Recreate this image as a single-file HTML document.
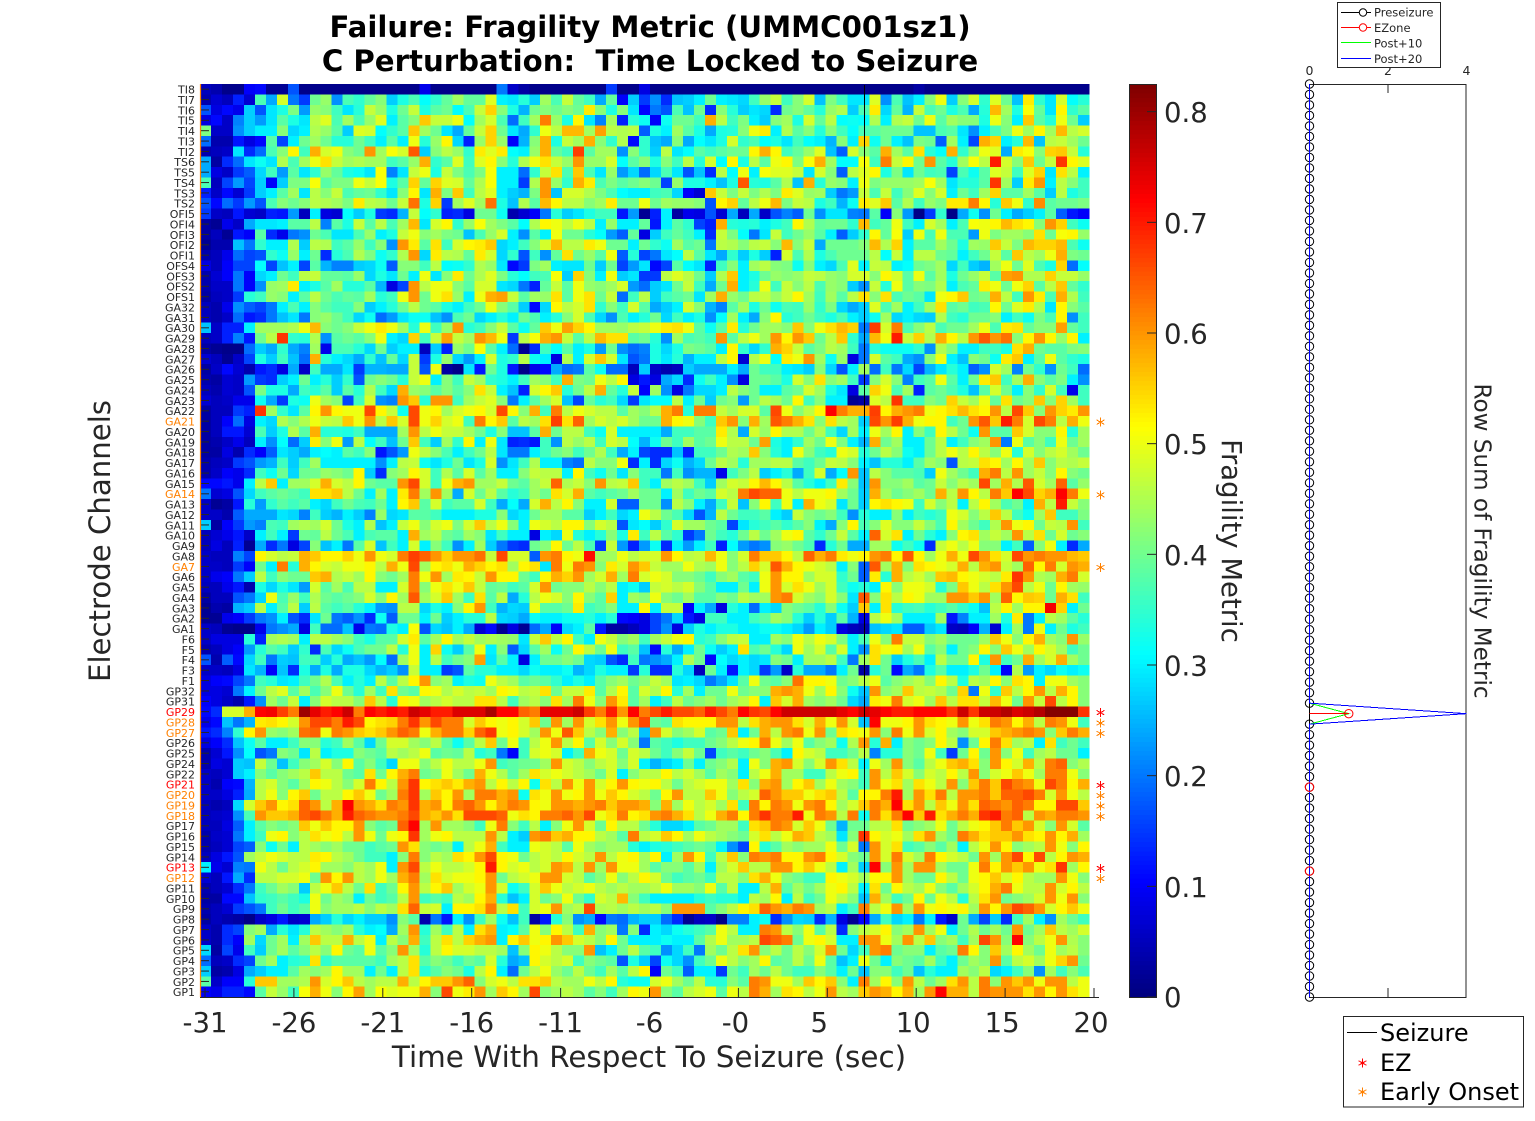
<!DOCTYPE html>
<html>
<head>
<meta charset="utf-8">
<title>Failure: Fragility Metric</title>
<style>
html,body{margin:0;padding:0;background:#fff;}
svg{display:block;}
text{font-family:"DejaVu Sans","Liberation Sans",sans-serif;fill:#262626;}
</style>
</head>
<body>
<svg id="figure" xmlns="http://www.w3.org/2000/svg" width="1535" height="1121" viewBox="0 0 1535 1121">
  <text x="650" y="37" text-anchor="middle" font-size="29.2" font-weight="bold" style="fill:#000">Failure: Fragility Metric (UMMC001sz1)</text>
  <text x="650" y="71" text-anchor="middle" font-size="29.2" font-weight="bold" style="fill:#000;white-space:pre" xml:space="preserve">C Perturbation:  Time Locked to Seizure</text>
  <g id="heatmap"></g>
  <line x1="864.5" x2="864.5" y1="85" y2="997" stroke="#000" stroke-width="1"/>
  <g id="yticks"></g>
  <g id="xticks"></g>
  <line x1="200.5" x2="200.5" y1="84" y2="997" stroke="#ff8000" stroke-width="1.2"/>
  <line x1="200" x2="1099" y1="997.5" y2="997.5" stroke="#262626" stroke-width="1"/>
  <text x="649" y="1067" text-anchor="middle" font-size="29.4">Time With Respect To Seizure (sec)</text>
  <text transform="translate(110,541) rotate(-90)" text-anchor="middle" font-size="29.2">Electrode Channels</text>
  <g id="markers"></g>
  <g id="colorbar"></g>
  <text transform="translate(1222,541) rotate(90)" text-anchor="middle" font-size="27.5">Fragility Metric</text>
  <g id="sideplot"></g>
  <text transform="translate(1474.5,541) rotate(90)" text-anchor="middle" font-size="23.1">Row Sum of Fragility Metric</text>
  <g>
    <rect x="1337.5" y="2.5" width="103" height="65" fill="#fff" stroke="#262626" stroke-width="1"/>
    <line x1="1341" x2="1371" y1="12.5" y2="12.5" stroke="#000"/>
    <circle cx="1363" cy="12.5" r="3.7" fill="#fff" stroke="#000"/>
    <text x="1374" y="16.5" font-size="11.5">Preseizure</text>
    <line x1="1341" x2="1371" y1="27.5" y2="27.5" stroke="#f00"/>
    <circle cx="1363" cy="27.5" r="3.7" fill="#fff" stroke="#f00"/>
    <text x="1374" y="32" font-size="11.5">EZone</text>
    <line x1="1341" x2="1371" y1="42.5" y2="42.5" stroke="#0f0"/>
    <text x="1374" y="47.5" font-size="11.5">Post+10</text>
    <line x1="1341" x2="1371" y1="58.5" y2="58.5" stroke="#00f"/>
    <text x="1374" y="63" font-size="11.5">Post+20</text>
  </g>
  <g>
    <rect x="1343.5" y="1016.5" width="180" height="90.5" fill="#fff" stroke="#262626" stroke-width="1"/>
    <line x1="1347" x2="1377" y1="1032.5" y2="1032.5" stroke="#000"/>
    <text x="1380" y="1041" font-size="24" style="fill:#000">Seizure</text>
    <g id="legendStarEz"></g>
    <text x="1380" y="1071" font-size="24" style="fill:#000">EZ</text>
    <g id="legendStarOnset"></g>
    <text x="1380" y="1100" font-size="24" style="fill:#000">Early Onset</text>
  </g>
</svg>
<script>
const channels = ["TI8","TI7","TI6","TI5","TI4","TI3","TI2","TS6","TS5","TS4","TS3","TS2","OFI5","OFI4","OFI3","OFI2","OFI1","OFS4","OFS3","OFS2","OFS1","GA32","GA31","GA30","GA29","GA28","GA27","GA26","GA25","GA24","GA23","GA22","GA21","GA20","GA19","GA18","GA17","GA16","GA15","GA14","GA13","GA12","GA11","GA10","GA9","GA8","GA7","GA6","GA5","GA4","GA3","GA2","GA1","F6","F5","F4","F3","F1","GP32","GP31","GP29","GP28","GP27","GP26","GP25","GP24","GP22","GP21","GP20","GP19","GP18","GP17","GP16","GP15","GP14","GP13","GP12","GP11","GP10","GP9","GP8","GP7","GP6","GP5","GP4","GP3","GP2","GP1"];
const ezChannels = ["GP29","GP21","GP13"];
const onsetChannels = ["GA21","GA14","GA7","GP28","GP27","GP20","GP19","GP18","GP12"];
const timeTickLabels = ["-31","-26","-21","-16","-11","-6","-0","5","10","15","20"];
const colorbarTicks = [0,0.1,0.2,0.3,0.4,0.5,0.6,0.7,0.8];
const rowSumTicks = [0,2,4];
const preseizure = [0,0,0,0,0,0,0,0,0,0,0,0,0,0,0,0,0,0,0,0,0,0,0,0,0,0,0,0,0,0,0,0,0,0,0,0,0,0,0,0,0,0,0,0,0,0,0,0,0,0,0,0,0,0,0,0,0,0,0,0,null,0,0,0,0,0,0,0,0,0,0,0,0,0,0,0,0,0,0,0,0,0,0,0,0,0,0,0];
const post10 = [0,0,0,0,0,0,0,0,0,0,0,0,0,0,0,0,0,0,0,0,0,0,0,0,0,0,0,0,0,0,0,0,0,0,0,0,0,0,0,0,0,0,0,0,0,0,0,0,0,0,0,0,0,0,0,0,0,0,0,0,1,0,0,0,0,0,0,0,0,0,0,0,0,0,0,0,0,0,0,0,0,0,0,0,0,0,0,0];
const post20 = [0,0,0,0,0,0,0,0,0,0,0,0,0,0,0,0,0,0,0,0,0,0,0,0,0,0,0,0,0,0,0,0,0,0,0,0,0,0,0,0,0,0,0,0,0,0,0,0,0,0,0,0,0,0,0,0,0,0,0,0,4,0,0,0,0,0,0,0,0,0,0,0,0,0,0,0,0,0,0,0,0,0,0,0,0,0,0,0];
const ezoneRows = [60,60,67,75];
const ezoneValues = [0,1,0,0];
const fragility = [
[5,4,1,1,10,11,2,2,17,1, 1,1,1,1,1,1,1,1,1,1, 9,1,1,1,1,1,1,20,6,3, 1,1,1,1,1,1,1,15,1,1, 8,1,1,1,1,1,1,1,1,1, 1,1,1,1,1,1,1,1,1,1, 1,1,1,1,1,3,1,1,1,1, 1,1,1,1,1,1,1,1,1,1,1],
[4,7,5,13,7,37,24,48,20,15, 40,43,22,37,35,39,42,27,33,37, 31,35,39,44,39,39,49,30,29,34, 27,44,37,47,39,36,24,39,10,27, 15,22,14,26,27,30,40,30,29,28, 36,43,47,36,42,48,26,41,36,29, 29,49,22,37,26,30,42,50,27,42, 48,35,49,40,26,53,35,29,48,31,34],
[17,8,11,9,27,17,29,33,41,23, 43,42,36,29,34,47,43,33,40,47, 33,38,40,31,37,47,55,42,33,25, 40,42,40,42,40,53,42,33,42,29, 11,20,17,37,26,40,14,42,34,27, 29,28,14,40,42,39,34,43,45,27, 37,53,28,39,25,47,37,40,33,37, 24,34,57,44,33,51,39,29,52,35,38],
[8,11,6,21,27,23,29,38,33,29, 46,49,37,44,37,43,49,30,38,42, 56,47,47,50,31,44,48,37,19,36, 44,62,43,33,52,29,21,44,13,34, 32,10,32,40,40,36,58,46,36,41, 30,27,42,44,33,48,39,46,31,32, 31,45,30,45,47,40,50,38,44,42, 42,33,50,42,30,56,38,34,50,40,27],
[41,6,6,22,27,30,30,42,28,30, 45,43,38,27,49,48,31,35,38,56, 44,40,29,24,39,47,55,40,29,24, 35,50,46,57,57,44,59,46,45,46, 18,33,30,44,38,33,24,33,34,42, 50,53,30,45,38,42,34,42,36,31, 37,38,40,40,40,26,26,37,38,29, 22,30,37,41,50,44,52,44,57,46,48],
[19,4,4,12,8,11,38,16,30,40, 44,40,34,34,40,36,30,38,30,50, 34,43,52,28,13,43,55,43,10,25, 42,58,33,47,44,58,42,35,45,11, 35,26,24,42,24,31,29,33,48,35, 37,31,33,29,36,31,30,25,42,30, 55,32,40,30,26,41,40,18,44,30, 16,58,55,30,34,57,26,46,47,44,40],
[4,5,6,29,14,19,37,42,52,36, 58,48,50,42,40,60,44,51,48,65, 27,42,46,43,35,53,49,53,31,30, 43,58,39,36,67,38,44,44,22,42, 35,27,46,29,31,38,36,38,40,40, 52,58,52,36,39,43,49,26,18,48, 42,38,58,44,38,54,34,31,58,35, 42,50,49,24,53,51,42,55,56,47,34],
[24,3,14,19,29,32,29,45,37,44, 50,54,47,44,45,44,44,36,38,43, 58,35,38,49,36,49,52,42,34,45, 50,54,47,43,60,43,43,48,31,38, 42,33,42,36,46,34,48,31,52,33, 46,38,50,52,41,51,58,44,31,31, 51,36,62,47,52,40,60,38,34,44, 51,46,70,48,42,56,40,47,68,52,49],
[24,8,6,15,18,28,36,23,38,29, 35,43,39,33,32,29,51,21,29,47, 50,33,47,41,37,41,51,30,30,19, 35,47,54,37,56,37,29,43,23,28, 19,28,37,29,17,26,14,46,31,50, 30,51,49,49,47,29,48,42,18,46, 49,52,33,41,29,40,36,37,16,37, 32,38,49,47,36,49,55,29,54,46,30],
[37,5,16,23,16,27,10,27,41,41, 51,38,41,41,50,47,51,33,38,55, 39,55,49,48,39,45,51,30,30,15, 45,60,43,35,58,53,37,41,38,40, 42,40,16,43,33,33,30,26,33,65, 34,33,38,45,26,58,34,43,42,30, 50,41,43,43,43,44,51,44,29,34, 34,38,68,44,27,53,60,30,46,42,36],
[13,6,11,7,15,27,30,38,44,29, 46,42,47,37,39,40,35,29,42,52, 29,58,41,56,36,46,49,30,27,25, 41,60,26,48,48,45,41,37,31,30, 30,36,37,28,10,7,56,47,41,47, 41,45,41,53,49,43,44,27,20,23, 47,37,47,36,42,49,42,48,30,40, 36,44,55,38,38,44,38,27,46,33,36],
[17,11,19,15,23,17,37,42,40,42, 46,45,44,41,53,46,45,40,47,63, 33,55,15,44,49,44,63,33,26,45, 38,57,52,46,46,42,44,53,40,40, 50,40,44,43,43,42,17,52,55,39, 46,50,57,41,47,46,33,36,25,32, 53,49,56,38,45,36,43,41,53,53, 62,52,34,56,50,35,61,38,40,40,41],
[15,6,5,12,7,6,13,12,23,5, 30,8,7,31,27,33,15,14,25,47, 31,35,13,14,8,40,40,32,4,7, 10,20,34,27,29,33,36,36,12,23, 2,13,30,3,9,8,17,7,24,5, 24,6,17,21,18,40,22,29,29,21, 20,38,10,42,23,1,15,35,1,24, 32,22,40,30,24,27,30,38,18,12,10],
[3,2,9,6,24,29,29,30,38,38, 46,21,38,33,47,38,46,37,44,57, 29,48,52,35,43,51,44,41,38,31, 45,52,50,46,50,46,30,43,30,30, 39,12,30,38,35,16,13,58,34,33, 34,30,33,36,52,45,39,40,40,35, 57,36,39,50,36,30,48,44,30,37, 51,50,52,57,54,52,42,60,55,36,32],
[3,5,2,12,10,38,14,9,20,22, 40,37,29,29,37,43,30,33,47,50, 42,44,41,40,26,37,43,48,30,22, 38,30,50,40,40,34,31,23,18,39, 8,27,36,39,36,30,14,47,41,31, 20,29,47,36,40,43,38,30,18,27, 35,52,39,51,27,50,37,50,37,37, 23,50,41,44,44,42,54,40,51,52,43],
[2,4,4,26,20,35,30,30,45,27, 46,45,36,38,43,36,42,22,60,53, 38,54,36,48,52,53,56,28,30,36, 42,48,57,46,46,53,50,40,40,30, 40,35,32,44,38,40,20,46,45,42, 46,47,42,57,42,47,24,40,40,40, 42,57,45,55,30,38,38,44,40,33, 44,43,56,47,41,57,55,55,57,37,32],
[4,5,9,19,16,17,35,32,43,30, 40,14,34,37,45,41,32,35,45,60, 28,53,46,45,39,53,48,28,35,17, 36,22,39,54,40,43,38,50,18,34, 16,20,29,31,46,38,29,24,35,27, 33,27,13,48,37,45,33,37,40,40, 40,46,31,47,30,46,46,40,39,30, 36,40,47,38,56,46,44,50,58,41,40],
[8,5,10,16,16,31,16,26,30,16, 38,25,21,21,27,28,32,18,42,42, 36,46,31,32,35,45,43,29,11,15, 41,44,30,29,29,40,27,40,16,23, 29,11,16,38,31,29,13,36,42,30, 44,46,42,41,32,42,30,28,37,49, 30,47,46,30,31,40,41,44,28,36, 27,25,44,50,40,49,37,33,55,19,31],
[4,7,10,20,10,28,30,40,36,46, 47,39,39,38,43,28,33,29,40,30, 50,29,42,53,40,45,49,41,34,31, 36,37,51,27,55,42,30,50,27,29, 15,15,46,49,46,40,27,45,56,30, 33,40,43,42,43,47,46,43,42,48, 48,42,52,48,38,50,38,44,33,40, 43,47,38,59,60,45,45,55,47,47,43],
[4,6,6,20,10,22,43,44,53,30, 33,38,44,34,34,38,25,8,16,60, 46,50,50,42,38,48,48,29,28,20, 13,39,47,38,50,43,42,44,48,23, 19,27,29,40,47,36,24,40,58,30, 34,50,36,47,42,46,37,43,42,27, 22,47,34,50,38,42,41,45,30,37, 39,53,50,40,50,55,38,46,56,39,35],
[3,5,6,15,34,36,43,42,30,38, 46,40,37,39,38,44,34,36,50,60, 40,50,54,43,30,50,58,59,47,38, 44,43,54,38,50,54,40,47,19,36, 46,27,36,38,40,29,44,58,43,40, 46,47,43,47,52,44,36,44,38,46, 54,42,54,37,40,38,29,50,52,56, 40,41,58,46,36,60,53,37,58,45,36],
[5,4,9,22,18,16,20,30,37,30, 42,38,36,36,42,27,30,34,40,46, 40,38,33,30,36,40,50,42,38,27, 11,28,52,46,48,54,35,42,36,48, 38,24,27,30,48,42,25,21,38,44, 33,40,32,37,36,43,35,41,28,24, 27,49,37,44,30,36,44,54,38,40, 36,37,52,40,49,53,45,29,52,42,38],
[5,4,6,19,12,14,20,26,29,20, 42,43,40,36,28,32,19,23,29,32, 32,26,22,37,40,28,30,34,30,40, 37,30,34,42,48,37,28,22,37,30, 34,40,28,36,30,33,22,31,44,30, 24,42,52,34,36,40,36,33,37,30, 27,32,44,28,30,28,27,45,36,34, 40,40,42,30,36,32,41,37,52,22,36],
[26,6,13,13,30,44,44,44,45,50, 57,42,40,42,47,50,53,50,44,34, 50,36,43,60,34,36,42,47,38,32, 39,56,50,59,55,52,44,44,43,46, 47,50,53,54,50,38,32,38,53,34, 40,44,44,42,56,42,50,54,57,55, 20,67,48,62,37,42,46,37,40,40, 44,50,37,53,54,39,42,42,59,39,36],
[5,6,13,21,12,40,46,68,35,34, 45,22,38,40,38,42,50,30,28,55, 36,47,59,47,44,60,57,50,15,46, 51,58,60,47,38,46,57,54,54,38, 40,34,22,44,37,38,36,60,38,46, 50,44,60,52,60,56,40,46,56,35, 24,57,50,70,47,55,45,58,52,46, 60,65,60,63,42,52,60,52,43,52,30],
[3,2,1,1,19,27,24,35,24,21, 44,9,37,37,34,28,40,27,30,30, 5,27,13,43,40,51,38,30,19,2, 14,36,31,38,30,33,23,40,22,19, 21,33,28,33,41,40,38,30,52,35, 28,35,58,55,47,38,41,46,44,36, 20,34,32,32,32,35,22,45,41,30, 30,36,36,33,54,58,40,38,38,41,42],
[7,5,2,6,16,33,27,36,26,19, 58,34,30,28,24,35,26,39,28,47, 15,33,43,28,23,30,48,33,35,46, 32,30,8,45,30,48,56,48,29,17, 20,33,29,34,25,30,30,46,52,7, 45,50,31,53,50,60,44,32,43,8, 20,48,38,36,24,22,42,50,30,26, 42,40,32,53,56,30,38,50,38,35,33],
[3,6,11,7,4,12,14,8,24,6, 36,24,24,29,15,25,25,24,24,47, 17,50,3,1,29,12,40,33,12,1, 9,11,24,19,20,38,32,19,19,5, 27,6,4,5,27,24,24,24,30,24, 40,36,36,30,29,27,42,28,17,30, 44,19,36,20,28,16,25,29,34,30, 18,22,48,44,21,40,35,22,40,36,19],
[4,3,7,6,23,15,14,27,30,40, 30,34,27,35,17,40,42,40,34,47, 50,30,42,36,47,44,35,33,30,36, 44,42,36,58,41,40,50,46,52,8, 12,8,24,28,14,32,36,30,22,8, 40,40,38,33,48,42,54,42,44,36, 15,42,48,42,21,36,38,50,38,30, 40,53,56,36,44,58,42,38,41,30,22],
[5,4,7,6,17,41,33,33,24,36, 34,38,27,38,34,45,36,28,58,43, 42,38,42,38,42,54,47,30,26,13, 48,52,56,34,40,46,58,39,34,47, 10,44,22,8,20,28,28,30,46,42, 40,30,30,38,40,48,44,33,29,8, 38,55,50,37,44,13,38,40,37,33, 26,38,48,40,30,42,35,48,36,9,36],
[7,5,6,9,9,32,24,15,33,32, 50,44,42,16,36,48,22,21,60,56, 34,60,60,36,44,47,49,42,20,30, 38,44,48,26,16,39,34,36,28,15, 29,31,31,46,30,40,27,40,42,23, 40,46,44,40,52,36,42,30,30,2, 3,49,46,68,36,36,42,40,55,47, 44,50,39,54,40,42,56,42,55,44,36],
[3,5,5,15,13,68,44,35,29,38, 52,60,52,50,50,66,52,47,32,66, 50,52,44,48,50,52,48,66,52,42, 58,36,62,46,50,48,46,46,38,44, 42,46,58,62,34,62,62,47,44,48, 48,38,66,50,42,46,52,72,62,58, 58,67,52,58,60,62,50,52,54,57, 54,52,60,46,66,56,42,60,55,53,60],
[3,5,10,19,8,30,28,45,42,45, 50,47,46,56,50,60,46,56,48,66, 50,55,48,50,36,62,52,56,38,46, 44,54,67,54,64,44,48,46,48,44, 40,40,58,52,50,42,36,56,60,42, 58,44,65,62,58,54,42,54,46,44, 27,66,60,67,58,50,52,52,36,40, 60,65,56,70,62,48,66,62,46,58,50],
[3,5,12,12,7,37,27,33,45,38, 58,34,34,33,36,24,24,24,44,60, 46,50,47,47,44,40,33,42,26,26, 38,58,40,46,46,36,32,48,30,30, 30,30,24,36,36,38,38,53,45,24, 48,43,52,45,45,40,45,36,28,44, 30,50,44,52,30,42,36,52,46,40, 32,60,38,38,56,48,42,42,52,34,44],
[3,4,6,9,5,30,22,31,19,27, 53,42,50,23,46,31,36,26,40,56, 36,27,44,35,52,30,50,29,13,14, 12,36,22,46,43,46,36,48,46,31, 25,32,40,36,44,38,40,50,46,46, 40,59,33,30,35,44,40,50,41,30, 25,58,40,44,30,30,40,46,30,36, 42,44,60,20,50,38,42,36,50,40,44],
[3,3,8,4,14,10,18,29,27,24, 30,31,30,38,36,42,12,17,23,50, 46,42,37,30,36,40,46,29,20,20, 30,36,40,42,36,40,45,36,24,30, 16,14,14,26,13,36,36,40,45,44, 56,42,34,30,50,42,36,34,50,48, 34,40,46,42,32,30,40,46,50,46, 52,46,42,50,34,48,42,46,48,44,40],
[4,5,6,15,17,23,25,36,27,36, 44,30,30,30,30,30,22,30,46,47, 32,29,33,40,29,33,48,22,29,36, 45,30,30,21,19,46,42,42,50,14, 30,14,28,32,25,28,40,46,44,34, 44,44,46,46,38,36,40,47,46,42, 30,26,34,34,30,38,44,42,17,46, 47,54,52,44,52,44,56,42,46,45,47],
[4,6,10,9,14,36,32,40,28,40, 40,43,42,40,52,27,14,42,44,52, 48,36,45,38,48,38,44,30,30,42, 47,46,46,30,52,36,32,40,29,42, 36,36,20,36,22,25,25,9,36,41, 46,27,30,34,24,36,48,24,31,60, 26,46,42,38,38,37,27,50,44,40, 36,58,62,46,60,44,47,42,52,42,40],
[11,11,12,9,30,46,56,30,44,44, 48,58,48,46,52,40,38,38,60,66, 48,36,50,58,60,44,44,47,40,38, 44,47,64,45,47,42,60,46,47,56, 36,30,44,46,44,36,27,44,48,47, 52,57,52,46,38,34,30,36,53,42, 26,60,42,42,44,38,40,47,42,46, 44,66,44,58,45,65,48,44,64,38,43],
[20,7,8,17,28,36,38,40,38,36, 54,54,56,46,40,30,44,30,53,62, 44,60,44,24,48,40,46,38,34,36, 44,40,54,48,58,38,36,38,40,44, 40,40,30,44,36,40,38,48,46,62, 66,64,64,50,46,50,50,52,44,40, 27,58,44,40,42,44,40,58,46,60, 52,46,62,56,72,66,55,58,72,62,50],
[6,2,3,12,34,23,35,38,36,38, 30,28,36,40,37,36,40,30,52,56, 38,48,36,38,38,48,36,24,31,24, 48,58,46,52,42,30,30,48,18,18, 40,40,22,46,42,30,24,36,47,26, 42,52,36,50,30,58,50,48,29,40, 27,52,54,52,50,36,48,42,46,30, 46,52,44,37,40,30,58,46,70,47,42],
[6,6,4,18,24,24,24,29,28,21, 36,27,25,30,27,21,43,28,29,38, 38,36,30,30,30,33,33,42,28,30, 40,44,44,38,38,27,30,36,28,30, 50,46,40,37,28,17,25,46,40,36, 36,38,30,27,47,42,40,42,36,22, 34,30,30,42,30,36,34,36,50,48, 42,46,56,46,36,32,44,56,36,36,41],
[27,3,10,15,23,21,37,36,44,45, 44,48,40,33,30,45,26,30,47,50, 42,48,50,41,48,56,46,50,42,30, 50,48,46,52,52,42,48,46,17,29, 31,27,35,48,44,44,40,38,16,29, 34,36,38,35,38,42,30,24,42,52, 37,42,49,42,42,47,42,37,52,44, 40,36,45,60,50,52,40,47,46,60,36],
[5,7,9,12,6,30,36,30,15,40, 39,46,40,37,30,37,38,38,30,58, 44,46,40,38,44,42,29,36,30,30, 8,30,28,50,34,30,34,42,33,53, 36,46,38,35,15,20,40,36,34,40, 46,40,44,50,52,38,35,40,47,38, 30,64,48,54,30,40,34,30,42,52, 54,44,47,44,60,46,54,40,48,40,42],
[5,8,5,13,2,24,14,20,8,16, 42,26,30,20,38,48,26,36,30,48, 30,42,36,22,30,44,27,20,15,14, 40,42,52,40,46,37,15,47,23,13, 23,32,14,30,23,30,36,13,31,23, 20,22,42,43,40,37,14,34,40,24, 24,44,44,32,36,32,14,47,50,46, 50,42,42,30,36,18,42,50,30,14,24],
[6,5,5,21,16,52,48,46,47,58, 56,52,52,55,50,60,50,48,62,67, 64,60,55,60,60,63,47,66,48,48, 18,60,62,52,50,71,44,44,50,46, 48,48,60,52,46,47,57,50,42,48, 62,56,56,52,46,64,58,62,53,50, 52,60,62,52,65,52,44,50,58,50, 66,60,54,48,66,60,62,60,60,57,56],
[6,6,5,15,10,40,30,62,34,58, 52,48,47,50,50,52,46,58,50,66, 44,52,54,50,58,55,52,54,44,52, 54,29,62,50,62,60,42,53,48,60, 56,47,44,44,50,45,44,50,42,46, 55,48,65,58,52,50,48,46,30,42, 18,65,44,58,42,54,52,50,48,58, 46,58,60,47,44,64,52,62,48,60,58],
[6,9,10,20,27,46,36,42,40,40, 56,58,45,47,44,52,42,40,44,62, 50,60,44,53,52,47,60,52,52,40, 36,52,58,55,60,44,48,58,44,62, 48,50,48,42,42,40,36,42,44,38, 36,50,60,52,52,44,48,48,35,40, 18,53,34,58,46,48,44,56,57,52, 50,48,46,53,68,60,45,44,58,62,48],
[5,5,9,12,4,33,28,33,29,23, 48,38,44,37,46,46,30,30,48,62, 42,50,54,50,56,47,39,40,36,38, 48,60,40,42,42,46,42,46,30,32, 27,47,48,46,48,42,38,30,30,40, 30,50,60,48,54,50,44,48,36,32, 34,30,52,42,50,50,48,34,41,56, 50,46,54,60,66,46,50,40,52,44,43],
[3,5,5,17,20,28,50,37,43,36, 45,40,38,40,42,48,42,52,44,65, 44,48,56,44,36,54,38,46,24,34, 46,50,48,42,52,42,38,55,30,44, 42,50,42,40,44,38,38,42,40,46, 44,44,60,62,48,44,42,48,42,29, 65,42,54,46,52,50,44,44,60,60, 56,60,44,64,52,56,55,40,58,54,36],
[2,4,3,25,27,46,30,38,46,27, 46,38,36,38,34,30,23,22,46,46, 28,33,30,42,52,60,36,25,28,27, 50,38,38,40,53,36,38,42,30,30, 52,30,47,47,10,30,24,8,34,30, 19,30,28,42,40,38,34,42,32,27, 56,30,54,34,36,37,34,36,38,35, 32,26,46,52,44,52,52,73,55,30,40],
[2,2,9,10,15,20,22,30,17,14, 29,40,20,18,22,14,32,18,40,40, 30,40,27,30,34,34,46,28,27,24, 32,30,30,32,32,34,30,34,11,10, 8,16,20,28,12,8,36,36,30,30, 36,38,44,42,34,27,34,27,38,25, 8,46,50,44,30,30,30,44,12,21, 30,30,44,33,53,20,30,46,44,38,34],
[6,5,2,1,1,9,20,22,24,8, 36,19,19,26,9,20,19,33,30,51, 17,28,26,30,24,7,11,2,8,2, 19,24,10,28,30,38,12,3,3,5, 8,16,22,8,27,33,30,33,33,30, 30,32,32,30,28,23,30,27,8,5, 4,26,28,29,18,18,27,29,6,5, 10,25,7,30,44,20,50,30,40,33,36],
[6,8,8,8,34,13,44,45,44,30, 46,46,44,42,36,33,38,38,48,53, 38,44,52,44,47,44,45,44,43,29, 47,56,46,52,36,30,50,47,42,44, 36,44,47,50,52,34,36,42,46,47, 30,30,44,42,50,46,50,48,41,30, 37,50,42,62,47,47,42,44,40,40, 40,44,56,50,42,52,58,44,42,60,43],
[4,5,8,10,23,34,38,36,27,35, 14,37,28,32,37,40,40,46,34,50, 30,55,32,27,38,50,30,42,18,28, 38,44,32,40,52,46,40,50,36,38, 26,11,34,24,30,40,32,27,30,54, 37,40,34,28,50,44,48,38,48,30, 22,54,50,52,44,50,38,42,30,40, 42,52,42,56,50,44,52,48,44,36,40],
[17,4,18,11,28,36,20,27,26,36, 37,27,34,24,26,23,31,19,44,50, 30,46,36,40,42,59,29,38,30,8, 30,40,40,42,40,28,27,17,14,36, 20,22,24,30,45,40,11,31,28,30, 28,29,42,40,30,44,44,46,36,20, 44,54,40,27,33,37,30,46,40,40, 52,33,60,36,40,58,44,48,58,44,40],
[6,6,5,8,29,25,10,26,14,33, 24,33,24,33,33,28,25,27,22,47, 30,30,15,17,38,34,34,30,30,28, 32,30,30,32,25,28,33,30,30,15, 34,14,14,34,28,5,40,30,12,30, 28,15,23,6,34,24,24,20,30,40, 3,34,40,11,24,20,33,38,30,30, 33,40,30,10,45,23,30,28,32,30,32],
[8,10,11,16,20,36,34,29,30,36, 40,45,37,30,34,30,46,38,46,52, 60,42,44,30,33,32,50,46,44,38, 40,38,35,30,33,30,38,42,44,40, 42,47,44,29,30,28,20,24,29,38, 50,40,38,42,63,52,52,50,40,42, 46,50,38,42,44,46,42,52,46,33, 46,44,52,42,54,52,30,50,50,44,42],
[8,8,7,20,30,40,46,49,38,44, 37,42,50,40,34,44,36,54,40,38, 52,50,45,48,46,47,44,52,50,46, 47,54,40,47,47,53,38,45,52,38, 48,45,52,34,44,30,40,40,50,40, 42,42,58,60,58,50,44,52,42,32, 26,60,42,44,56,46,47,45,40,55, 20,50,35,56,46,52,60,46,58,52,42],
[10,8,6,4,12,22,44,40,47,30, 42,48,46,46,42,56,46,34,52,50, 44,46,48,46,46,54,54,46,36,44, 46,42,54,44,62,50,42,60,53,38, 44,30,36,46,40,42,44,40,44,46, 52,30,56,48,58,44,42,44,40,28, 24,53,50,62,48,50,44,56,46,54, 54,47,57,50,40,60,47,66,46,52,42],
[11,14,48,48,58,72,73,67,62,80, 74,70,72,76,62,72,70,72,70,76, 74,70,70,75,75,75,79,72,72,64, 62,74,74,74,76,67,62,70,60,72, 62,66,70,66,66,64,70,66,62,72, 68,66,72,76,76,76,76,76,74,72, 76,74,72,70,70,72,72,72,68,76, 68,76,76,78,75,76,78,82,82,82,68],
[9,11,26,20,25,53,54,52,48,60, 66,66,62,70,66,52,54,55,62,68, 60,66,62,62,48,56,52,50,52,48, 56,40,60,44,60,48,54,60,50,60, 66,40,38,54,52,52,52,60,60,46, 54,58,60,60,54,48,58,50,60,48, 26,72,50,50,52,60,54,52,50,60, 50,54,62,60,52,58,46,62,60,50,36],
[12,14,21,35,52,60,43,42,44,63, 64,50,62,60,56,54,56,60,64,62, 50,58,62,62,55,64,68,50,52,48, 44,60,50,65,56,46,42,58,42,46, 26,60,48,42,44,48,38,40,56,30, 40,58,46,60,62,50,60,40,54,52, 50,60,42,62,50,60,48,52,44,42, 48,48,56,58,60,62,60,42,56,62,58],
[8,10,14,26,32,38,30,30,36,42, 42,34,36,44,38,28,40,48,48,44, 42,46,38,32,38,46,56,40,50,36, 46,50,60,46,52,38,48,42,48,42, 20,38,36,33,36,36,40,42,46,50, 52,62,50,44,50,38,42,44,32,45, 60,34,58,30,42,40,42,52,46,22, 40,52,62,54,44,46,30,54,36,40,36],
[4,7,12,22,31,17,20,42,40,29, 46,30,33,33,42,40,38,46,44,46, 50,38,40,39,46,34,36,20,10,36, 48,50,48,30,36,58,50,48,40,48, 46,40,36,42,47,40,16,36,38,36, 40,42,37,30,52,48,46,36,36,40, 46,21,34,34,42,40,50,36,15,40, 52,40,60,42,50,36,44,46,40,40,30],
[4,8,7,27,26,47,40,26,36,42, 44,48,42,52,38,42,36,28,50,50, 42,46,50,46,46,50,60,36,38,40, 40,44,60,48,46,42,46,48,42,48, 30,25,28,30,40,30,40,42,45,30, 50,42,58,60,48,42,48,60,54,46, 30,50,44,60,42,38,46,50,56,58, 54,42,60,52,48,58,46,62,64,42,45],
[6,5,7,27,30,42,38,42,44,46, 56,46,46,40,38,54,40,52,58,62, 40,42,50,44,40,58,50,45,38,44, 54,48,50,48,46,44,40,48,30,42, 46,46,52,46,48,44,38,44,42,30, 46,50,58,44,44,36,36,46,50,52, 36,60,46,56,48,42,48,46,52,46, 60,42,48,50,56,50,44,62,62,50,42],
[6,4,10,11,25,46,48,42,38,44, 52,50,46,42,48,62,52,46,60,68, 52,54,56,53,58,60,46,52,46,52, 32,54,46,60,50,60,48,52,60,52, 50,52,46,40,46,48,50,50,44,54, 42,58,60,44,52,56,44,50,44,42, 36,60,50,54,44,54,50,46,60,42, 56,62,56,66,62,60,50,66,62,52,58],
[6,6,8,13,24,46,50,42,52,56, 40,46,46,52,56,50,40,44,62,68, 44,56,52,60,44,62,62,58,60,32, 54,50,60,50,52,60,50,56,52,48, 46,40,52,60,46,46,56,50,42,46, 48,64,60,56,56,50,54,56,46,38, 52,52,62,70,44,60,54,62,46,60, 60,62,56,64,64,66,62,48,60,50,46],
[5,4,5,28,48,56,60,52,54,64, 60,46,58,72,60,58,54,62,60,68, 58,60,52,62,64,60,52,58,62,60, 52,50,60,60,58,60,62,56,60,60, 58,42,58,44,50,46,48,44,54,36, 62,52,62,60,50,60,62,52,44,48, 56,62,58,72,54,60,46,56,50,60, 54,64,62,60,64,62,52,52,66,66,56],
[5,6,7,22,37,60,56,56,58,64, 66,62,58,70,64,62,60,60,62,66, 58,56,60,54,66,66,66,64,50,54, 52,62,62,64,60,66,50,54,62,52, 54,60,62,58,54,46,50,58,62,52, 62,68,62,62,70,50,62,60,46,62, 32,62,54,62,72,56,70,54,58,62, 58,68,70,62,64,46,60,58,62,62,60],
[5,5,8,18,30,38,42,40,42,56, 50,56,52,52,60,42,38,40,64,72, 44,60,44,44,42,36,50,62,42,36, 46,30,42,50,60,48,40,52,46,46, 40,34,28,28,30,38,40,44,44,36, 54,56,62,60,48,56,50,40,25,40, 40,46,46,54,40,42,44,50,40,46, 50,52,56,62,56,60,48,42,60,48,38],
[4,6,7,20,30,36,50,52,42,46, 54,50,52,46,60,50,40,50,52,68, 44,50,52,46,46,46,60,46,30,27, 60,62,56,58,52,52,46,44,38,62, 46,48,56,52,44,50,46,44,42,40, 48,54,46,50,58,56,46,44,29,42, 68,52,48,50,44,54,60,44,40,62, 58,54,56,56,60,54,52,60,52,58,44],
[4,5,7,16,18,42,32,40,30,46, 44,42,44,40,40,36,38,40,60,54, 42,40,42,30,46,50,58,36,30,30, 50,48,46,38,50,44,42,44,44,34, 30,33,34,36,38,40,38,30,22,16, 52,34,38,44,42,44,44,50,40,48, 20,60,48,54,36,38,42,38,44,30, 46,50,60,52,42,44,46,60,50,42,52],
[5,8,12,17,44,47,50,48,46,46, 53,52,46,44,40,36,36,30,42,62, 42,46,44,54,52,60,66,52,50,40, 46,48,46,52,48,46,60,46,50,52, 44,52,30,44,60,52,36,46,56,42, 62,60,62,52,52,60,62,52,48,42, 40,60,48,62,48,44,62,52,48,46, 40,60,44,60,66,52,66,46,52,60,58],
[30,9,7,21,20,50,46,40,46,48, 52,44,44,42,46,44,50,30,60,66, 46,50,46,46,48,52,70,52,48,50, 46,48,60,58,46,60,44,60,50,50, 44,38,42,42,38,44,30,44,48,56, 46,46,60,60,52,56,50,46,30,44, 27,72,42,60,44,60,60,44,40,40, 50,62,52,60,56,60,50,54,68,44,52],
[7,5,12,24,14,46,46,48,48,50, 40,60,52,60,46,44,50,44,58,62, 44,54,48,50,50,52,60,40,46,48, 50,60,60,48,46,38,42,50,42,46, 52,48,40,36,38,40,36,46,46,42, 54,58,50,42,40,36,36,52,50,48, 44,52,52,60,44,40,40,52,46,40, 50,52,56,48,52,46,44,44,60,50,42],
[4,5,7,14,20,36,40,44,42,27, 46,50,56,46,40,54,36,40,52,60, 46,52,56,44,48,50,60,48,32,36, 48,56,50,46,48,50,46,44,46,44, 44,46,50,44,44,42,50,38,46,30, 30,46,58,38,44,40,44,50,52,46, 30,54,40,52,46,44,50,42,38,44, 48,52,58,62,50,46,46,60,48,52,46],
[3,3,11,11,26,35,36,38,36,33, 50,40,44,42,30,40,36,38,46,60, 36,38,36,46,44,52,58,34,26,30, 48,40,42,50,40,35,48,46,57,42, 36,30,30,30,30,34,36,34,34,30, 46,44,52,30,46,36,40,50,46,42, 26,58,44,36,40,52,40,50,46,34, 46,54,60,40,42,44,48,60,50,60,42],
[4,5,7,15,17,20,36,40,36,38, 50,42,44,44,46,42,46,44,54,64, 47,48,30,52,52,54,62,46,54,36, 48,50,60,44,46,66,45,46,44,46, 44,46,42,60,60,60,38,42,46,52, 54,64,60,58,62,60,44,46,30,36, 62,46,50,60,44,60,50,52,50,52, 44,60,52,60,66,64,60,48,52,56,50],
[3,5,4,3,1,6,8,12,6,7, 24,27,34,28,30,27,27,22,42,38, 4,20,12,30,22,36,44,32,26,36, 3,12,34,42,22,24,11,20,19,25, 27,27,19,14,2,5,6,1,21,21, 30,32,14,22,28,27,14,25,8,2, 10,24,36,28,30,20,30,12,6,40, 24,16,27,14,36,44,30,22,44,40,36],
[6,4,14,16,42,44,24,34,29,34, 46,44,42,44,34,30,31,24,44,60, 34,44,36,46,30,54,58,30,31,38, 50,42,52,46,36,58,42,44,20,42, 14,30,28,32,34,36,38,50,46,30, 30,62,60,46,42,50,38,46,14,42, 46,48,52,42,44,60,44,50,30,40, 45,40,44,40,60,40,44,56,46,44,48],
[6,4,14,10,44,28,40,44,30,44, 56,46,46,58,46,50,30,46,42,58, 36,46,54,46,55,58,60,30,52,56, 50,52,60,56,48,46,42,52,40,30, 30,30,32,30,30,38,45,50,44,44, 46,66,64,62,40,50,52,48,30,30, 60,60,50,44,60,46,56,42,44,36, 44,66,60,42,72,42,46,50,60,45,42],
[28,3,16,9,36,27,40,44,38,42, 46,42,52,40,38,50,38,42,60,44, 34,46,52,48,48,46,46,44,26,42, 52,50,46,42,42,60,26,30,40,46, 38,36,22,28,36,20,44,40,46,54, 60,42,46,40,46,42,48,60,40,28, 36,60,62,40,42,42,30,38,40,62, 52,42,56,44,52,44,40,50,44,46,42],
[19,5,6,14,16,40,44,30,34,35, 54,35,38,38,38,38,36,44,46,54, 38,42,40,36,40,38,48,34,24,26, 52,48,46,48,36,42,40,38,17,33, 27,16,32,28,22,36,40,50,46,42, 44,52,38,40,46,40,50,38,26,30, 50,40,30,42,40,38,44,36,30,40, 44,42,60,38,46,48,44,50,55,60,40],
[27,3,4,8,24,27,30,30,38,44, 42,44,52,44,44,30,40,30,46,54, 34,38,42,40,33,46,52,30,19,40, 46,50,43,40,46,40,36,44,38,46, 52,10,40,36,18,30,30,15,40,36, 44,40,46,40,36,36,42,38,30,40, 26,42,42,36,40,26,34,30,30,44, 42,46,28,30,36,42,22,44,36,42,37],
[38,6,10,10,34,56,56,44,44,45, 60,48,52,56,46,44,46,46,58,46, 52,56,56,60,64,42,48,50,46,54, 54,56,46,44,44,50,46,52,34,32, 32,48,50,44,40,46,34,34,42,38, 62,60,50,50,44,56,52,56,42,30, 62,44,52,42,60,46,40,44,54,60, 46,62,42,60,56,60,50,60,60,46,50],
[10,9,13,13,11,38,47,43,36,51, 58,50,42,52,59,44,51,49,50,50, 58,42,66,50,53,60,44,56,52,44, 66,42,44,46,44,38,42,36,44,52, 50,60,42,38,46,48,50,38,50,46, 62,58,44,54,52,46,50,60,46,44, 56,60,58,52,58,44,60,72,58,58, 46,62,60,60,60,54,60,52,60,54,50]
];

const SVGNS = "http://www.w3.org/2000/svg";
const HEAT_LEFT = 200, HEAT_TOP = 84, HEAT_W = 889, HEAT_H = 913, COLOR_MAX = 0.825;
const BAR_LEFT = 1129, BAR_W = 27;
const SIDE_LEFT = 1309, SIDE_W = 157, SIDE_MAX = 4;

function make(tag, attrs, parent) {
  const el = document.createElementNS(SVGNS, tag);
  for (const k in attrs) el.setAttribute(k, attrs[k]);
  parent.appendChild(el);
  return el;
}
function xCol(i) { return HEAT_LEFT + i * HEAT_W / fragility[0].length; }
function yRow(i) { return HEAT_TOP + i * HEAT_H / channels.length; }
function xTimeTick(i) { return 205 + i * 88.9; }
function yBar(v) { return 997 - v / COLOR_MAX * HEAT_H; }
function xSide(v) { return SIDE_LEFT + 0.5 + v / SIDE_MAX * SIDE_W; }
function ySide(i) { return HEAT_TOP + i * HEAT_H / (channels.length - 1); }
function clamp01(v) { return Math.max(0, Math.min(1, v)); }
function jet(t) {
  const q = Math.min(199, Math.floor(clamp01(t) * 200)) / 199;
  const r = clamp01(1.5 - Math.abs(4 * q - 3));
  const g = clamp01(1.5 - Math.abs(4 * q - 2));
  const b = clamp01(1.5 - Math.abs(4 * q - 1));
  return "rgb(" + Math.round(r * 255) + "," + Math.round(g * 255) + "," + Math.round(b * 255) + ")";
}
function drawStar(parent, cx, cy, size, color) {
  const arms = [[0, 1], [0.87, 0.5], [0.87, -0.5]];
  for (const a of arms) {
    const arm = make("line", { x1: cx - a[0] * size, y1: cy - a[1] * size, x2: cx + a[0] * size, y2: cy + a[1] * size, stroke: color, "stroke-width": 1, "shape-rendering": "crispEdges" }, parent);
    
    
  }
}

const heatG = document.getElementById("heatmap");
fragility.forEach(function (row, r) {
  row.forEach(function (val, c) {
    const cell = make("rect", { x: xCol(c), y: yRow(r), width: xCol(c + 1) - xCol(c) + 0.4, height: yRow(r + 1) - yRow(r) + 0.4, fill: jet(val / 100 / COLOR_MAX), "shape-rendering": "crispEdges" }, heatG);
    
    
  });
});

const yG = document.getElementById("yticks");
channels.forEach(function (name, r) {
  const cy = (yRow(r) + yRow(r + 1)) / 2;
  const tick = make("line", { x1: 201, x2: 209, y1: cy, y2: cy, stroke: "#262626", "stroke-width": 1 }, yG);
  
  
  const color = ezChannels.includes(name) ? "#ff0000" : onsetChannels.includes(name) ? "#ff8000" : "#262626";
  const label = make("text", { x: 195, y: cy + 4.4, "text-anchor": "end", "font-size": 11 }, yG);
  label.style.fill = color;
  label.textContent = name;
  
  
});

const xG = document.getElementById("xticks");
timeTickLabels.forEach(function (lab, i) {
  const x = xTimeTick(i);
  const tick = make("line", { x1: x, x2: x, y1: 988, y2: 997, stroke: "#262626", "stroke-width": 1 }, xG);
  
  
  const shift = lab === "5" ? -8 : (i < 6 ? 0 : -3);
  const label = make("text", { x: x + shift, y: 1032, "text-anchor": "middle", "font-size": 27.5 }, xG);
  label.textContent = lab;
  
  
});

const markG = document.getElementById("markers");
channels.forEach(function (name, r) {
  const cy = (yRow(r) + yRow(r + 1)) / 2 + 1;
  if (ezChannels.includes(name)) drawStar(markG, 1100.5, cy, 4.5, "#ff0000");
  if (onsetChannels.includes(name)) drawStar(markG, 1100.5, cy, 4.5, "#ff8000");
});
drawStar(document.getElementById("legendStarEz"), 1362.5, 1063, 4.5, "#ff0000");
drawStar(document.getElementById("legendStarOnset"), 1362.5, 1092, 4.5, "#ff8000");

const barG = document.getElementById("colorbar");
for (let i = 0; i < 200; i++) {
  const y0 = 997 - (i + 1) * HEAT_H / 200;
  const seg = make("rect", { x: BAR_LEFT, y: y0, width: BAR_W, height: HEAT_H / 200 + 0.4, fill: jet((i + 0.5) / 200), "shape-rendering": "crispEdges" }, barG);
  
  
}
const barBox = make("rect", { x: BAR_LEFT + 0.5, y: HEAT_TOP + 0.5, width: BAR_W, height: HEAT_H, fill: "none", stroke: "#262626", "stroke-width": 1 }, barG);


colorbarTicks.forEach(function (v) {
  const y = yBar(v);
  const tick = make("line", { x1: BAR_LEFT + 18, x2: BAR_LEFT + BAR_W, y1: y, y2: y, stroke: "#262626", "stroke-width": 1 }, barG);
  
  
  const label = make("text", { x: 1164, y: v === 0 ? 1007 : y + 10.5, "font-size": 27.5 }, barG);
  label.textContent = String(v);
  
  
});

const sideG = document.getElementById("sideplot");
const sideBox = make("rect", { x: SIDE_LEFT + 0.5, y: HEAT_TOP + 0.5, width: SIDE_W - 0.5, height: HEAT_H, fill: "#fff", stroke: "#262626", "stroke-width": 1 }, sideG);


rowSumTicks.forEach(function (v) {
  const x = xSide(v);
  const label = make("text", { x: x, y: 75, "text-anchor": "middle", "font-size": 12.5 }, sideG);
  label.textContent = String(v);
  
  
  if (v === 2) {
    const topTick = make("line", { x1: x, x2: x, y1: 84, y2: 93, stroke: "#262626" }, sideG);
    
    
    const bottomTick = make("line", { x1: x, x2: x, y1: 988, y2: 997, stroke: "#262626" }, sideG);
    
    
  }
});
function seriesPoints(values) {
  const pts = [];
  values.forEach(function (v, i) { pts.push(xSide(v === null ? 0 : v) + "," + ySide(i)); });
  return pts.join(" ");
}
preseizure.forEach(function (v, i) {
  if (v === null) return;
  const m = make("circle", { cx: xSide(v), cy: ySide(i), r: 4.2, fill: "none", stroke: "#000", "stroke-width": 1 }, sideG);
  
  
});
const lineBlack = make("polyline", { points: seriesPoints(preseizure), fill: "none", stroke: "#000", "stroke-width": 1 }, sideG);


const lineGreen = make("polyline", { points: seriesPoints(post10), fill: "none", stroke: "#00ff00", "stroke-width": 1, "shape-rendering": "crispEdges" }, sideG);


const lineBlue = make("polyline", { points: seriesPoints(post20), fill: "none", stroke: "#0000ff", "stroke-width": 1, "shape-rendering": "crispEdges" }, sideG);


const lineRed = make("line", { x1: xSide(ezoneValues[0]), x2: xSide(ezoneValues[1]), y1: ySide(ezoneRows[0]), y2: ySide(ezoneRows[1]), stroke: "#ff0000", "stroke-width": 1, "shape-rendering": "crispEdges" }, sideG);


ezoneRows.forEach(function (r, i) {
  if (i === 0) return;
  const m = make("circle", { cx: xSide(ezoneValues[i]), cy: ySide(r), r: 4.2, fill: "none", stroke: "#ff0000", "stroke-width": 1 }, sideG);
  
  
});
</script>
</body>
</html>
